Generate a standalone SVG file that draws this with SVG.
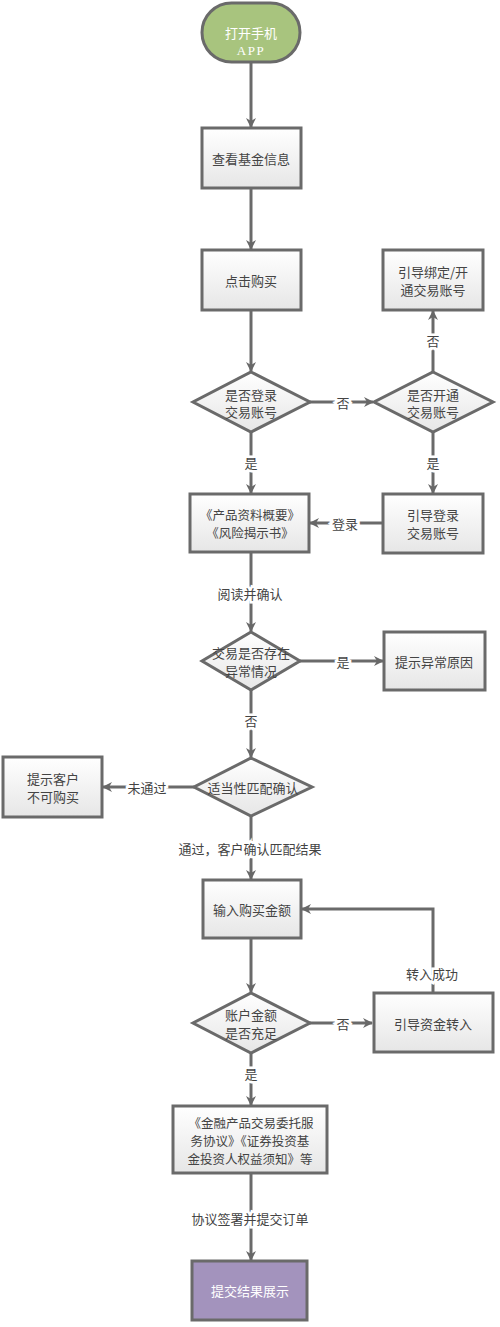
<svg xmlns="http://www.w3.org/2000/svg" width="500" height="1327" viewBox="0 0 500 1327">
<defs>
<linearGradient id="g" x1="0" y1="0" x2="0" y2="1">
<stop offset="0" stop-color="#ffffff"/>
<stop offset="1" stop-color="#e6e6e6"/>
</linearGradient>
<marker id="ar" viewBox="0 0 10 10" refX="9" refY="5" markerWidth="10" markerHeight="10" markerUnits="userSpaceOnUse" orient="auto">
<path d="M0,0 L10,5 L0,10 L3,5 z" fill="#686868"/>
</marker>
<style>
.b{fill:url(#g);stroke:#6a6a6a;stroke-width:3}
.t{font-family:"Noto Sans CJK SC","Liberation Sans",sans-serif;font-size:13px;fill:#444;text-anchor:middle;dominant-baseline:central}
.s{font-size:12.5px}
.c line,.c polyline{stroke:#6a6a6a;stroke-width:3;fill:none;marker-end:url(#ar)}
.l{font-family:"Noto Sans CJK SC","Liberation Sans",sans-serif;font-size:13px;fill:#444;text-anchor:middle;dominant-baseline:central;stroke:#fff;stroke-width:5;paint-order:stroke}
</style>
</defs>
<rect width="500" height="1327" fill="#fff"/>
<g class="c" id="connectors">
<line x1="251" y1="62" x2="251" y2="127"/>
<line x1="251" y1="188" x2="251" y2="249"/>
<line x1="251" y1="310" x2="251" y2="371"/>
<line x1="310" y1="402" x2="373" y2="402"/>
<line x1="433" y1="372" x2="433" y2="311"/>
<line x1="433" y1="432" x2="433" y2="493"/>
<line x1="251" y1="432" x2="251" y2="493"/>
<line x1="383" y1="523" x2="310" y2="523"/>
<line x1="251" y1="552" x2="251" y2="631"/>
<line x1="300" y1="661" x2="383" y2="661"/>
<line x1="251" y1="690" x2="251" y2="757"/>
<line x1="194" y1="787" x2="103" y2="787"/>
<line x1="251" y1="816" x2="251" y2="879"/>
<line x1="251" y1="938" x2="251" y2="992"/>
<line x1="310" y1="1023" x2="372" y2="1023"/>
<polyline points="433,993 433,909 302,909"/>
<line x1="251" y1="1053" x2="251" y2="1105"/>
<line x1="251" y1="1173" x2="251" y2="1260"/>
<text class="l" x="343" y="402">否</text>
<text class="l" x="433" y="340">否</text>
<text class="l" x="433" y="462">是</text>
<text class="l" x="251" y="462">是</text>
<text class="l" x="345" y="523">登录</text>
<text class="l" x="250" y="593">阅读并确认</text>
<text class="l" x="343" y="661">是</text>
<text class="l" x="251" y="720">否</text>
<text class="l" x="147" y="787">未通过</text>
<text class="l" x="250" y="848">通过，客户确认匹配结果</text>
<text class="l" x="343" y="1023">否</text>
<text class="l" x="432" y="973">转入成功</text>
<text class="l" x="251" y="1073">是</text>
<text class="l" x="250" y="1218">协议签署并提交订单</text>
</g>
<g id="start">
<rect x="202" y="3" width="98" height="59" rx="29.5" fill="#a8c47e" stroke="#6a6a6a" stroke-width="3"/>
<text class="t" x="251" y="32" style="fill:#fff">打开手机</text>
<text class="t" x="251" y="50" style="fill:#fff;font-family:'Liberation Serif',serif;font-size:13px;letter-spacing:1.5px">APP</text>
</g>
<g id="view">
<rect class="b" x="202" y="128" width="99" height="60"/>
<text class="t" x="251" y="158">查看基金信息</text>
</g>
<g id="buy">
<rect class="b" x="202" y="250" width="99" height="60"/>
<text class="t" x="251" y="280">点击购买</text>
</g>
<g id="login">
<polygon class="b" points="251,372 310,402 251,432 193,402"/>
<text class="t" x="251" y="394">是否登录</text>
<text class="t" x="251" y="411">交易账号</text>
</g>
<g id="opened">
<polygon class="b" points="433,372 493,402 433,432 374,402"/>
<text class="t" x="433" y="394">是否开通</text>
<text class="t" x="433" y="411">交易账号</text>
</g>
<g id="bind">
<rect class="b" x="383" y="250" width="100" height="60"/>
<text class="t" x="433" y="271">引导绑定/开</text>
<text class="t" x="433" y="289">通交易账号</text>
</g>
<g id="guide-login">
<rect class="b" x="383" y="494" width="100" height="59"/>
<text class="t" x="433" y="514">引导登录</text>
<text class="t" x="433" y="532">交易账号</text>
</g>
<g id="docs">
<rect class="b" x="190" y="494" width="119" height="58"/>
<text class="t s" x="250" y="514">《产品资料概要》</text>
<text class="t s" x="250" y="532">《风险揭示书》</text>
</g>
<g id="abnormal">
<polygon class="b" points="251,632 300,661 251,690 202,661"/>
<text class="t" x="251" y="652">交易是否存在</text>
<text class="t" x="251" y="670">异常情况</text>
</g>
<g id="reason">
<rect class="b" x="384" y="632" width="101" height="58"/>
<text class="t" x="434" y="661">提示异常原因</text>
</g>
<g id="suit">
<polygon class="b" points="251,758 312,787 251,816 194,787"/>
<text class="t" x="253" y="787">适当性匹配确认</text>
</g>
<g id="reject">
<rect class="b" x="3" y="757" width="99" height="60"/>
<text class="t" x="53" y="778">提示客户</text>
<text class="t" x="53" y="796">不可购买</text>
</g>
<g id="amount">
<rect class="b" x="203" y="880" width="98" height="58"/>
<text class="t" x="252" y="909">输入购买金额</text>
</g>
<g id="enough">
<polygon class="b" points="251,993 310,1023 251,1053 193,1023"/>
<text class="t" x="251" y="1014">账户金额</text>
<text class="t" x="251" y="1032">是否充足</text>
</g>
<g id="transfer">
<rect class="b" x="374" y="993" width="119" height="59"/>
<text class="t" x="433" y="1023">引导资金转入</text>
</g>
<g id="agreement">
<rect class="b" x="173" y="1106" width="154" height="67"/>
<text class="t s" x="251" y="1122">《金融产品交易委托服</text>
<text class="t s" x="250" y="1140">务协议》《证券投资基</text>
<text class="t s" x="250" y="1158">金投资人权益须知》等</text>
</g>
<g id="result">
<rect x="192" y="1261" width="115" height="59" fill="#a393bd" stroke="#6a6a6a" stroke-width="3"/>
<text class="t" x="250" y="1290" style="fill:#fff">提交结果展示</text>
</g>
</svg>
